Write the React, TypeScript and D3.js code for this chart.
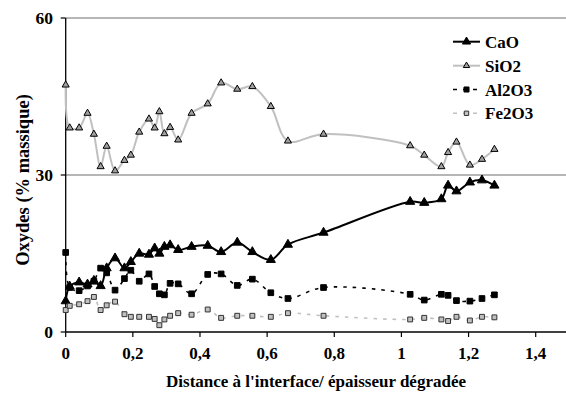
import React from "react";
import * as d3 from "d3";

const xValues = [0, 0.012, 0.04, 0.065, 0.084, 0.104, 0.122, 0.147, 0.175, 0.194, 0.219, 0.248, 0.265, 0.279, 0.294, 0.311, 0.335, 0.375, 0.423, 0.463, 0.511, 0.556, 0.611, 0.662, 0.768, 1.026, 1.068, 1.119, 1.139, 1.164, 1.204, 1.24, 1.277];
const caO = [5.9, 8.7, 9.5, 9.1, 9.8, 8.8, 12.2, 14.1, 12.2, 13.4, 15.0, 14.8, 16.0, 15.0, 16.3, 16.6, 15.7, 16.3, 16.5, 15.3, 17.1, 15.3, 13.8, 16.7, 19.0, 24.9, 24.7, 25.4, 28.0, 26.9, 28.6, 29.0, 28.0];
const siO2 = [47.2, 39.0, 39.0, 41.8, 37.8, 31.6, 35.5, 30.8, 32.8, 33.8, 38.2, 40.7, 39.0, 42.1, 37.9, 39.1, 36.7, 41.8, 43.6, 47.6, 46.4, 46.9, 43.1, 36.5, 37.8, 35.6, 33.8, 31.6, 34.3, 36.3, 31.9, 33.0, 34.9];
const al2O3 = [15.2, 8.5, 7.9, 8.8, 9.7, 12.2, 11.3, 8.0, 10.2, 11.8, 9.7, 11.1, 8.7, 7.3, 7.1, 9.3, 9.2, 7.3, 11.0, 11.1, 8.9, 10.1, 7.5, 6.4, 8.5, 7.2, 6.1, 7.2, 7.0, 6.0, 5.9, 6.4, 7.1];
const fe2O3 = [4.2, 5.0, 5.3, 5.9, 6.7, 4.2, 5.1, 5.8, 3.4, 2.9, 2.9, 2.9, 2.5, 1.3, 2.4, 3.1, 3.6, 3.3, 4.3, 2.7, 3.1, 3.1, 2.9, 3.6, 3.1, 2.4, 2.7, 2.4, 2.1, 2.9, 2.2, 2.9, 2.8];
const seriesNames = ["CaO", "SiO2", "Al2O3", "Fe2O3"];
const xTicks = [0, 0.2, 0.4, 0.6, 0.8, 1, 1.2, 1.4];
const yTicks = [0, 30, 60];
const xTitle = "Distance à l'interface/ épaisseur dégradée";
const yTitle = "Oxydes (% massique)";

const W = 566;
const H = 403;
const FONT = "Liberation Serif, Times New Roman, DejaVu Serif, serif";

export default function App() {
  const x = d3.scaleLinear().domain([0, 1.4]).range([65.7, 535.7]);
  const y = d3.scaleLinear().domain([0, 60]).range([332, 18]);
  const line = d3
    .line<number>()
    .x((_, i) => x(xValues[i]))
    .y((d) => y(d))
    .curve(d3.curveCatmullRom.alpha(0.5));

  const styles = [
    { data: caO, stroke: "#000", width: 2, dash: undefined, sym: d3.symbolTriangle, size: 36, fill: "#000", mstroke: "#000" },
    { data: siO2, stroke: "#c0c0c0", width: 2, dash: undefined, sym: d3.symbolTriangle, size: 22, fill: "#a0a0a0", mstroke: "#000" },
    { data: al2O3, stroke: "#000", width: 1.6, dash: "3.5,6", sym: d3.symbolSquare, size: 32, fill: "#000", mstroke: "#000" },
    { data: fe2O3, stroke: "#c0c0c0", width: 1.6, dash: "3.5,6", sym: d3.symbolSquare, size: 24, fill: "#c0c0c0", mstroke: "#333" },
  ];

  const fmt = (v: number) => String(v).replace(".", ",");
  const legendY = [41.7, 65.7, 89.5, 113.3];
  const ts = { fontFamily: FONT, fontWeight: 700 as const };

  return (
    <svg width={W} height={H} style={{ position: "absolute", left: 0, top: 0, background: "#fff", fontFamily: FONT }}>
      {/* gridlines */}
      {yTicks.filter((t) => t > 0).map((t) => (
        <line key={t} x1={x(0)} x2={W} y1={y(t)} y2={y(t)} stroke="#6e6e6e" strokeWidth={1} />
      ))}
      {/* x axis */}
      <line x1={x(0)} x2={W} y1={y(0)} y2={y(0)} stroke="#000" strokeWidth={1.3} />
      {xTicks.map((t) => (
        <g key={t}>
          <line x1={x(t)} x2={x(t)} y1={y(0)} y2={y(0) + 5} stroke="#000" strokeWidth={1.2} />
          <text x={x(t)} y={359} textAnchor="middle" fontSize={17} style={ts}>{fmt(t)}</text>
        </g>
      ))}
      {/* y axis */}
      <line x1={x(0)} x2={x(0)} y1={y(60)} y2={y(0)} stroke="#000" strokeWidth={1.3} />
      {yTicks.map((t) => (
        <g key={t}>
          <line x1={x(0) - 5} x2={x(0)} y1={y(t)} y2={y(t)} stroke="#000" strokeWidth={1.2} />
          <text x={53} y={y(t) + 6} textAnchor="end" fontSize={17.5} style={ts}>{t}</text>
        </g>
      ))}
      {/* titles */}
      <text x={316} y={387} textAnchor="middle" fontSize={17} style={ts}>{xTitle}</text>
      <text transform={`translate(29,180) rotate(-90)`} textAnchor="middle" fontSize={18.5} style={ts}>{yTitle}</text>
      {/* series lines */}
      {styles.map((s, i) => (
        <path key={"l" + i} d={line(s.data) || ""} fill="none" stroke={s.stroke} strokeWidth={s.width} strokeDasharray={s.dash} />
      ))}
      {/* markers */}
      {styles.map((s, i) => (
        <g key={"m" + i}>
          {s.data.map((v, j) => (
            <path key={j} transform={`translate(${x(xValues[j])},${y(v)})`} d={d3.symbol(s.sym, s.size)() || ""} fill={s.fill} stroke={s.mstroke} strokeWidth={1} />
          ))}
        </g>
      ))}
      {/* legend */}
      {seriesNames.map((n, i) => {
        const s = styles[i];
        return (
          <g key={n}>
            <line x1={453} x2={480} y1={legendY[i]} y2={legendY[i]} stroke={s.stroke} strokeWidth={s.width} strokeDasharray={s.dash ? "4,6" : undefined} />
            <path transform={`translate(466.5,${legendY[i]})`} d={d3.symbol(s.sym, s.size * 0.8)() || ""} fill={s.fill} stroke={s.mstroke} strokeWidth={1} />
            <text x={485} y={legendY[i] + 6} fontSize={17} style={ts}>{n}</text>
          </g>
        );
      })}
    </svg>
  );
}
